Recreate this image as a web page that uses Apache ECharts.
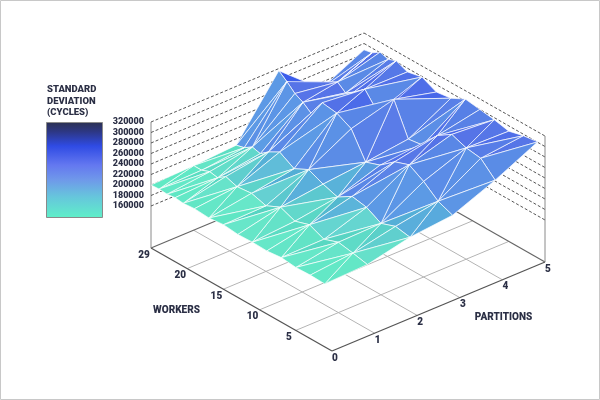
<!DOCTYPE html>
<html lang="en">
<head>
<meta charset="UTF-8">
<title>Standard deviation surface</title>
<style>
  html, body { margin: 0; padding: 0; background: #fff; }
  #box { width: 600px; height: 400px; }
</style>
</head>
<body>
<div id="box"></div>
<script src="https://cdn.jsdelivr.net/npm/echarts@6/dist/echarts.min.js"></script>
<script>
// ---- data ----
var workerTicks = [0, 5, 10, 15, 20, 29];
var partitionTicks = [0, 1, 2, 3, 4, 5];
var zTicks = [160000, 180000, 200000, 220000, 240000, 260000, 280000, 300000, 320000];

var workers = [1, 3, 5, 7, 9, 11, 13, 15, 17, 19, 21, 23, 25, 27, 29];
var partitions = [0, 1, 2, 3, 4, 5];

// standard deviation in cycles; one array per partition count, one value per worker count
var sdP0 = [200000, 201000, 200000, 203000, 200000, 201000, 200000, 203000, 200000, 202000, 200000, 202000, 200000, 201000, 200000];
var sdP1 = [203000, 209000, 214000, 204000, 216000, 207000, 218000, 205000, 213000, 210000, 217000, 206000, 209000, 203000, 203000];
var sdP2 = [221000, 226000, 216000, 231000, 236000, 219000, 228000, 240000, 226000, 242000, 230000, 218000, 222000, 212000, 208000];
var sdP3 = [229000, 240000, 262000, 278000, 268000, 246000, 236000, 284000, 298000, 302000, 270000, 282000, 290000, 304000, 316000];
var sdP4 = [262000, 288000, 292000, 302000, 284000, 250000, 246000, 306000, 260000, 294000, 276000, 266000, 278000, 256000, 248000];
var sdP5 = [301000, 297000, 290000, 296000, 300000, 304000, 290000, 286000, 299000, 293000, 302000, 296000, 301000, 291000, 288000];
var stdDev = [sdP0, sdP1, sdP2, sdP3, sdP4, sdP5];   // stdDev[partition][worker]

// ---- box projection (oblique view of the 3D box onto the page) ----
var zMin = 80000, zMax = 320000;
var O = [332, 351];          // floor corner workers=0, partitions=0
var WV = [-36.2, -20.6];     // one worker tick step
var PV = [42.6, -17.8];      // one partition
var HK = 126 / (zMax - zMin);
var tMax = workerTicks.length - 1;
var pMax = partitionTicks[partitionTicks.length - 1];

// worker value -> tick position (ticks are evenly spaced)
function tOf(w) {
    for (var k = 0; k < workerTicks.length - 1; k++) {
        if (w <= workerTicks[k + 1]) {
            return k + (w - workerTicks[k]) / (workerTicks[k + 1] - workerTicks[k]);
        }
    }
    return tMax;
}
function proj(t, p, z) {
    return [O[0] + WV[0] * t + PV[0] * p, O[1] + WV[1] * t + PV[1] * p - (z - zMin) * HK];
}

// ---- colours ----
function rgb(h) { return [parseInt(h.substr(1, 2), 16), parseInt(h.substr(3, 2), 16), parseInt(h.substr(5, 2), 16)]; }
function mixC(a, b, f) {
    return [a[0] + (b[0] - a[0]) * f, a[1] + (b[1] - a[1]) * f, a[2] + (b[2] - a[2]) * f];
}
function css(c) { return 'rgb(' + Math.round(c[0]) + ',' + Math.round(c[1]) + ',' + Math.round(c[2]) + ')'; }
var stops = [[200000, '#60eac4'], [212000, '#5cdcc4'], [222000, '#56c4cc'], [230000, '#54a4dc'],
             [240000, '#5a86e6'], [265000, '#5a78e8'], [320000, '#5270e6']];
function baseColor(z) {
    if (z <= stops[0][0]) return rgb(stops[0][1]);
    for (var k = 0; k < stops.length - 1; k++) {
        if (z <= stops[k + 1][0]) {
            return mixC(rgb(stops[k][1]), rgb(stops[k + 1][1]), (z - stops[k][0]) / (stops[k + 1][0] - stops[k][0]));
        }
    }
    return rgb(stops[stops.length - 1][1]);
}
var L = (function () { var v = [-0.3, -0.8, 0.5], n = Math.hypot(v[0], v[1], v[2]); return [v[0] / n, v[1] / n, v[2] / n]; })();
function faceColor(pts) {
    var V = pts.map(function (q) { return [q[0] * 42, q[1] * 46, (q[2] - zMin) * HK]; });
    var e1 = [V[1][0] - V[0][0], V[1][1] - V[0][1], V[1][2] - V[0][2]];
    var e2 = [V[2][0] - V[0][0], V[2][1] - V[0][1], V[2][2] - V[0][2]];
    var n = [e1[1] * e2[2] - e1[2] * e2[1], e1[2] * e2[0] - e1[0] * e2[2], e1[0] * e2[1] - e1[1] * e2[0]];
    var len = Math.hypot(n[0], n[1], n[2]);
    if (n[2] < 0) len = -len;
    n = [n[0] / len, n[1] / len, n[2] / len];
    var d = n[0] * L[0] + n[1] * L[1] + n[2] * L[2] - L[2];
    var zm = (pts[0][2] + pts[1][2] + pts[2][2]) / 3;
    var f = Math.max(0, Math.min(1, (zm - 205000) / 35000));
    var c = baseColor(zm);
    if (d > 0) {
        c = mixC(c, mixC(rgb('#8af6da'), rgb('#5eaee4'), f), Math.min(0.85, d * 1.3));
    } else {
        c = mixC(c, mixC(rgb('#3a9cae'), rgb('#2448ee'), f), Math.min(1, -d * 1.2));
    }
    return css(c);
}

// ---- surface triangles, far ones first ----
var tris = [];
function gp(i, j) { return [tOf(workers[i]), partitions[j], stdDev[j][i]]; }
function addTri(a, b, c) {
    var pts = [a, b, c];
    var depth = (a[0] + b[0] + c[0]) * 20.6 + (a[1] + b[1] + c[1]) * 17.8;
    tris.push({ pts: pts, depth: depth, color: faceColor(pts) });
}
for (var i = 0; i < workers.length - 1; i++) {
    for (var j = 0; j < partitions.length - 1; j++) {
        var A = gp(i, j), B = gp(i + 1, j), C = gp(i + 1, j + 1), D = gp(i, j + 1);
        if ((i * 7 + j * 3) % 5 < 2) { addTri(A, B, C); addTri(A, C, D); }
        else { addTri(A, B, D); addTri(B, C, D); }
    }
}
tris.sort(function (a, b) { return b.depth - a.depth; });

// ---- box lines ----
var lines = [];
partitionTicks.forEach(function (p, k) {
    if (k > 0 && k < partitionTicks.length - 1) lines.push({ a: [0, p, zMin], b: [tMax, p, zMin], color: '#b4b4b4', w: 1 });
});
workerTicks.forEach(function (w, k) {
    if (k > 0 && k < workerTicks.length - 1) lines.push({ a: [k, 0, zMin], b: [k, pMax, zMin], color: '#b4b4b4', w: 1 });
});
lines.push({ a: [tMax, 0, zMin], b: [tMax, pMax, zMin], color: '#666', w: 1.2 });
lines.push({ a: [0, pMax, zMin], b: [tMax, pMax, zMin], color: '#666', w: 1.2 });
lines.push({ a: [0, 0, zMin], b: [tMax, 0, zMin], color: '#555', w: 1.3 });
lines.push({ a: [0, 0, zMin], b: [0, pMax, zMin], color: '#555', w: 1.3 });
lines.push({ a: [tMax, 0, zMin], b: [tMax, 0, zMax], color: '#8a8a8a', w: 1 });
lines.push({ a: [0, pMax, zMin], b: [0, pMax, zMax], color: '#8a8a8a', w: 1 });
zTicks.forEach(function (z) {
    lines.push({ a: [tMax, 0, z], b: [tMax, pMax, z], color: '#555', w: 1, dash: [3, 2] });
    lines.push({ a: [tMax, pMax, z], b: [0, pMax, z], color: '#555', w: 1, dash: [3, 2] });
});

// ---- texts ----
var texts = [];
workerTicks.forEach(function (w, k) {
    if (k > 0) texts.push({ at: [k, 0, zMin], dx: -7, dy: 7, text: String(w), align: 'center', size: 10 });
});
partitionTicks.forEach(function (p) {
    texts.push({ at: [0, p, zMin], dx: 3, dy: 7, text: String(p), align: 'center', size: 10 });
});
zTicks.forEach(function (z) {
    texts.push({ at: [tMax, 0, z], dx: -7, dy: 0, text: String(z), align: 'right', size: 9 });
});
texts.push({ at: [tMax / 2, 0, zMin], dx: -65, dy: 11, text: 'WORKERS', align: 'center', size: 10 });
texts.push({ at: [0, pMax / 2, zMin], dx: 65, dy: 11, text: 'PARTITIONS', align: 'center', size: 10 });

var myChart = echarts.init(document.getElementById('box'));
var option = {
    animation: false,
    grid: { left: 0, right: 0, top: 0, bottom: 0 },
    xAxis: { type: 'value', min: 0, max: 600, show: false },
    yAxis: { type: 'value', min: 0, max: 400, inverse: true, show: false },
    graphic: [
        { type: 'rect', silent: true, shape: { x: 0.5, y: 0.5, width: 599, height: 399 },
          style: { fill: 'none', stroke: '#c8c8c8', lineWidth: 1 } },
        { type: 'text', left: 47, top: 84, silent: true,
          style: { text: 'STANDARD\nDEVIATION\n(CYCLES)', fontFamily: 'Roboto', fontWeight: 900,
                   fontSize: 9.5, lineHeight: 11.5, fill: '#2b2f45' } },
        { type: 'rect', silent: true, shape: { x: 46.5, y: 122.5, width: 56, height: 95 },
          style: {
              fill: new echarts.graphic.LinearGradient(0, 0, 0, 1, [
                  { offset: 0, color: '#2b3050' }, { offset: 0.1, color: '#2d3784' },
                  { offset: 0.25, color: '#2f4be4' }, { offset: 0.45, color: '#6478f0' },
                  { offset: 0.6, color: '#6f98ea' }, { offset: 0.78, color: '#66c6dc' },
                  { offset: 1, color: '#5ff0c8' }]),
              stroke: '#8a8a8a', lineWidth: 1 } }
    ],
    series: [
        {
            type: 'custom', coordinateSystem: 'cartesian2d', silent: true, z: 1,
            data: lines.map(function (l, k) { return [k, 0]; }),
            renderItem: function (params, api) {
                var l = lines[api.value(0)];
                var a = api.coord(proj(l.a[0], l.a[1], l.a[2]));
                var b = api.coord(proj(l.b[0], l.b[1], l.b[2]));
                return { type: 'line', shape: { x1: a[0], y1: a[1], x2: b[0], y2: b[1] },
                         style: { stroke: l.color, lineWidth: l.w, lineDash: l.dash || null } };
            }
        },
        {
            type: 'custom', coordinateSystem: 'cartesian2d', silent: true, z: 2,
            data: tris.map(function (t, k) { return [k, 0]; }),
            renderItem: function (params, api) {
                var t = tris[api.value(0)];
                var pts = t.pts.map(function (q) { return api.coord(proj(q[0], q[1], q[2])); });
                return { type: 'polygon', shape: { points: pts },
                         style: { fill: t.color, stroke: 'rgba(255,255,255,0.85)', lineWidth: 0.8, lineJoin: 'round' } };
            }
        },
        {
            type: 'custom', coordinateSystem: 'cartesian2d', silent: true, z: 3,
            data: texts.map(function (t, k) { return [k, 0]; }),
            renderItem: function (params, api) {
                var t = texts[api.value(0)];
                var c = api.coord(proj(t.at[0], t.at[1], t.at[2]));
                return { type: 'text',
                         style: { text: t.text, x: c[0] + t.dx, y: c[1] + t.dy, align: t.align, verticalAlign: 'middle',
                                  fontFamily: 'Roboto', fontWeight: 900, fontSize: t.size, fill: '#2b2f45' } };
            }
        }
    ]
};
myChart.setOption(option);

window.addEventListener('resize', function () {
    myChart.resize();
});
</script>
</body>
</html>
